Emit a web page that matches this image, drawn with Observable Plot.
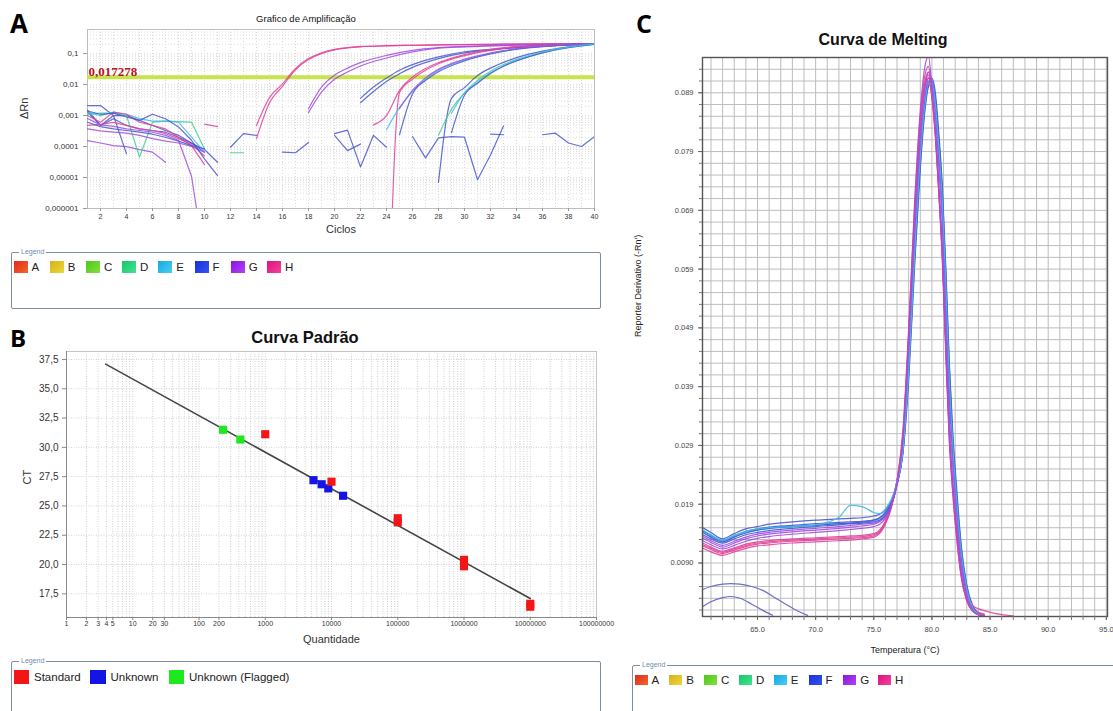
<!DOCTYPE html>
<html><head><meta charset="utf-8">
<script src="https://cdn.jsdelivr.net/npm/d3@7"></script>
<script src="https://cdn.jsdelivr.net/npm/@observablehq/plot@0.6"></script>
<style>
body{margin:0;background:#fff;font-family:"Liberation Sans",Arial,sans-serif;}
#root{position:relative;width:1113px;height:711px;overflow:hidden;background:#fff;}
.pos{position:absolute;}
.letter{position:absolute;font-family:"Open Sans","Liberation Sans",sans-serif;font-weight:700;line-height:1;color:#000;}
.title{position:absolute;white-space:nowrap;transform:translateX(-50%);line-height:1;color:#111;}
.legend{position:absolute;border:1.5px solid #7f8e9e;border-radius:2px;box-sizing:border-box;}
.legend .lt{position:absolute;top:-5px;left:7px;background:#fff;padding:0 2px;font-size:7px;line-height:8px;color:#6f8db0;}
.item{position:absolute;display:flex;align-items:center;color:#222;white-space:nowrap;}
.sw{display:inline-block;}
</style></head>
<body><div id="root">
  <div class="letter" style="left:10px;top:10px;font-size:26px;">A</div>
  <div class="letter" style="left:10px;top:326px;font-size:24px;">B</div>
  <div class="letter" style="left:636px;top:11px;font-size:25px;">C</div>
  <div class="title" style="left:306px;top:14px;font-size:9.5px;">Grafico de Amplificação</div>
  <div class="title" style="left:305px;top:329px;font-size:16.5px;font-weight:700;">Curva Padrão</div>
  <div class="title" style="left:883px;top:32px;font-size:16px;font-weight:700;">Curva de Melting</div>
  <div id="pa" class="pos" style="left:0;top:0;"></div>
  <div id="pb" class="pos" style="left:0;top:315px;"></div>
  <div id="pc" class="pos" style="left:620px;top:0;"></div>
  <div id="legA" class="legend" style="left:11px;top:252px;width:590px;height:57px;"><span class="lt">Legend</span></div>
  <div id="legB" class="legend" style="left:11px;top:661px;width:590px;height:70px;"><span class="lt">Legend</span></div>
  <div id="legC" class="legend" style="left:632px;top:665px;width:520px;height:70px;"><span class="lt">Legend</span></div>
</div>
<script>
// ---------------- Legends (samples A-H) ----------------
const sampleKeys = ["A","B","C","D","E","F","G","H"];
const sampleColorsFrom = ["#e4281c","#d8b01c","#4cc81c","#14c866","#16a8e0","#1830d8","#8818e0","#e0107c"];
const sampleColorsTo   = ["#f0682c","#ead838","#84e03c","#44e294","#46d0f2","#3454f0","#b242f2","#f0449c"];
// line colours drawn for each sample in panels A and C
const lineKeys = ["D","E","F","G","H"];
const lineColors = ["#3ccf8c","#3fbde8","#4657cf","#a04ce0","#e0429a"];

// ---------------- Panel A : amplification ----------------
const cycleTicks = [2,4,6,8,10,12,14,16,18,20,22,24,26,28,30,32,34,36,38,40];
const yTicksA = [1e-6,1e-5,1e-4,1e-3,1e-2,1e-1];
const yTickLabelsA = ["0,000001","0,00001","0,0001","0,001","0,01","0,1"];
const threshold = 0.017278;
const thresholdLabel = "0,017278";

// amplification curves: [cycle, ΔRn]
const ampH1 = [[14,4.8e-4],[15,3.8e-3],[16,0.0105],[17,0.033],[18,0.069],[19,0.107],[20,0.138],[21,0.156],[22,0.17],[24,0.18],[26,0.186],[28,0.19],[32,0.2],[36,0.206],[40,0.21]];
const ampH2 = [[14,1.8e-4],[15,2.6e-3],[16,0.0088],[17,0.03],[18,0.064],[19,0.1],[20,0.132],[21,0.152],[22,0.166],[24,0.178],[26,0.185],[28,0.19],[32,0.2],[36,0.206],[40,0.21]];
const ampG1 = [[18,1.66e-3],[19,8.3e-3],[20,0.02],[21,0.034],[22,0.051],[24,0.088],[26,0.128],[28,0.155],[30,0.17],[34,0.19],[40,0.21]];
const ampG2 = [[18,1.24e-3],[19,5.7e-3],[20,0.0148],[21,0.0254],[22,0.04],[24,0.072],[26,0.113],[28,0.15],[30,0.165],[34,0.188],[40,0.21]];
const ampF1 = [[22,3.6e-3],[23,8.3e-3],[24,0.0162],[25,0.029],[26,0.044],[28,0.078],[30,0.115],[32,0.138],[34,0.16],[36,0.18],[40,0.21]];
const ampF2 = [[22,2.6e-3],[23,6e-3],[24,0.0126],[25,0.0225],[26,0.036],[28,0.069],[30,0.105],[32,0.13],[34,0.155],[36,0.175],[40,0.21]];
const ampH3 = [[23,5e-4],[24,1e-3],[25,6.5e-3],[26,0.0175],[27,0.033],[28,0.051],[30,0.093],[32,0.138],[34,0.17],[36,0.186],[40,0.205]];
const ampH4 = [[24,1e-12],[25,5.5e-3],[26,0.015],[27,0.029],[28,0.047],[30,0.086],[32,0.128],[34,0.163],[36,0.183],[40,0.205]];
const ampE1 = [[24,3.5e-4],[25,1.8e-3],[26,6e-3],[27,0.015],[28,0.029],[30,0.062],[32,0.1],[34,0.14],[36,0.17],[38,0.19],[40,0.205]];
const ampF3 = [[25,2.4e-4],[26,5e-3],[27,0.0135],[28,0.026],[30,0.058],[32,0.097],[34,0.138],[36,0.168],[38,0.188],[40,0.205]];
const ampG3 = [[25,1.7e-3],[26,6.5e-3],[27,0.0165],[28,0.031],[30,0.066],[32,0.105],[34,0.145],[36,0.172],[38,0.19],[40,0.207]];
const ampF4 = [[28,7e-6],[29,3.6e-3],[30,8e-3],[31,0.0195],[32,0.034],[33,0.052],[34,0.074],[36,0.12],[38,0.165],[40,0.205]];
const ampD1 = [[28,2.3e-4],[29,1.6e-3],[30,5.2e-3],[31,0.012],[32,0.024],[33,0.04],[34,0.06],[36,0.108],[38,0.158],[40,0.2]];
const ampF5 = [[29,2.8e-4],[30,4.5e-3],[31,0.011],[32,0.023],[33,0.039],[34,0.058],[36,0.105],[38,0.155],[40,0.2]];
const ampE2 = [[29,1.2e-3],[30,5.5e-3],[31,0.0135],[32,0.027],[33,0.044],[34,0.065],[36,0.113],[38,0.162],[40,0.202]];

// early-cycle baselines and noise fragments: [cycle, ΔRn]
const baseB1 = [[1,2.1e-3],[2,2.1e-3],[3,1.0e-3],[4,1.0e-3],[5,7e-4],[6,4.8e-4],[7,3.3e-4],[8,2.3e-4],[9,1.3e-4],[10,8e-5],[11,3.1e-5]];
const baseB2 = [[1,1.5e-3],[2,4.8e-4],[3,7.9e-4],[4,4.8e-4],[5,3.7e-4],[6,3.3e-4],[7,2.9e-4],[8,2.0e-4],[9,1.3e-4],[10,6.6e-5]];
const baseB3 = [[1,1.55e-4],[2,1.3e-4],[3,1.07e-4],[4,1.0e-4],[5,8e-5],[6,6.6e-5],[7,3.1e-5]];
const baseB4 = [[1,1.3e-3],[2,4.8e-4],[3,1.0e-3],[4,5.8e-5]];
const baseB5 = [[1,1.1e-3],[2,1.2e-3],[3,1.2e-3],[4,1.0e-3],[5,4.6e-5],[6,6.1e-4],[7,6.6e-4],[8,6.4e-4],[9,6.1e-4],[10,8.5e-5]];
const baseB6 = [[1,1.29e-3],[2,1.0e-3],[3,1.29e-3],[4,1.1e-3],[5,8e-4],[6,6.6e-4],[7,6.6e-4],[8,6.1e-4],[9,2.0e-4],[10,6.6e-5]];
const baseB7 = [[1,8e-4],[2,5e-4],[3,4.5e-4],[4,3.7e-4],[5,3.3e-4],[6,2.9e-4],[7,2.3e-4],[8,1.6e-4],[9,1.1e-5],[9.5,5e-7]];
const baseB8 = [[1,1.0e-3],[2,6.1e-4],[3,1.29e-3],[4,1.1e-3],[5,6.1e-4],[6,4.8e-4],[7,3.7e-4],[8,2.0e-4],[9,1.07e-4],[10,2.6e-5]];
const baseB9 = [[1,4.8e-4],[2,5.2e-4],[3,6e-4],[4,4.8e-4],[5,3.7e-4],[6,3.3e-4],[7,2.6e-4],[8,1.8e-4],[9,1.2e-4],[10,5e-5]];
const baseB10 = [[1,3.7e-4],[2,3.2e-4],[3,2.9e-4],[4,2.7e-4],[5,2.3e-4],[6,1.8e-4],[7,1.5e-4],[8,1.3e-4],[9,1.0e-4],[10,6.6e-5]];
const baseB11 = [[1,6.1e-4],[2,4.4e-4],[3,3.7e-4],[4,3.3e-4],[5,2.9e-4],[6,2.5e-4],[7,2.0e-4],[8,1.5e-4],[9,1.07e-4],[10,8.5e-5]];
const baseB12 = [[1,1.4e-3],[2,1.1e-3],[3,1.2e-3],[4,9e-4],[5,7e-4],[6,1.1e-3],[7,7.9e-4],[8,4.3e-4],[9,1.6e-4],[10,4e-5],[11,1.15e-5]];
const noiseN1 = [[10,5.3e-4],[11,4.4e-4]];
const noiseN2 = [[12,9.5e-5],[13,2.6e-4],[14,2.3e-4]];
const noiseN3 = [[12,6.3e-5],[13,6.3e-5]];
const noiseN4 = [[16,6.6e-5],[17,6.3e-5],[18,1.35e-4]];
const noiseN5 = [[20,2.6e-4],[21,3.4e-4],[22,2.2e-5],[23,2.3e-4],[24,9.5e-5]];
const noiseN6 = [[20,2.3e-4],[21,7.4e-5],[22,1.2e-4]];
const noiseN7 = [[26,2.1e-4],[27,4.3e-5],[28,1.9e-4],[29,2.1e-4],[30,2.0e-4],[31,8.5e-6],[32,5.3e-5],[33,4.6e-4]];
const noiseN8 = [[32,2.5e-4],[33,2.4e-4]];
const noiseN9 = [[36,2.4e-4],[37,2.7e-4],[38,1.3e-4],[39,1.0e-4],[40,2.1e-4]];

const ampSeries = [["H",ampH1],["H",ampH2],["G",ampG1],["G",ampG2],["F",ampF1],["F",ampF2],["H",ampH3],["H",ampH4],["E",ampE1],["F",ampF3],["G",ampG3],["F",ampF4],["D",ampD1],["F",ampF5],["E",ampE2]];
const baseSeries = [["F",baseB1],["F",baseB2],["G",baseB3],["F",baseB4],["D",baseB5],["E",baseB6],["G",baseB7],["H",baseB8],["H",baseB9],["G",baseB10],["F",baseB11],["F",baseB12],
  ["H",noiseN1],["F",noiseN2],["D",noiseN3],["F",noiseN4],["F",noiseN5],["F",noiseN6],["F",noiseN7],["F",noiseN8],["F",noiseN9]];

// ---------------- Panel B : standard curve ----------------
const xTicksB = [1,2,3,4,5,10,20,30,100,200,1000,10000,100000,1000000,10000000,100000000];
const xTickLabelsB = ["1","2","3","4","5","10","20","30","100","200","1000","10000","100000","1000000","10000000","100000000"];
const yTicksB = [17.5,20,22.5,25,27.5,30,32.5,35,37.5];
const yTickLabelsB = ["17,5","20,0","22,5","25,0","27,5","30,0","32,5","35,0","37,5"];
const fitQ = [3.9, 10000000];
const fitCt = [37.1, 17.1];
const flaggedQ = [231, 421];
const flaggedCt = [31.5, 30.67];
const unknownQ = [5350, 7100, 8950, 14960];
const unknownCt = [27.2, 26.85, 26.5, 25.87];
const standardQ = [1000, 10000, 100000, 100000, 1000000, 1000000, 10000000, 10000000];
const standardCt = [31.12, 27.07, 23.95, 23.6, 20.4, 19.85, 16.65, 16.4];
const pointKinds = ["Standard","Unknown","Unknown (Flagged)"];
const pointColors = ["#f21616","#1414e4","#1ee81e"];

// ---------------- Panel C : melting curves ----------------
const tempGrid = [60.3,61,62,63,64,65,66,68,70,72,73,74,75,75.5,76,76.5,77,77.5,78,78.5,79,79.4,79.7,80,80.3,80.6,80.9,81.2,81.5,81.8,82.1,82.5,83,83.5,84,84.5];
const meltF1 = [.0150,.0142,.0131,.0140,.0148,.0152,.0156,.0160,.0163,.0165,.0166,.0167,.0170,.0173,.0180,.0196,.0226,.0275,.0400,.0590,.0760,.0860,.0900,.0910,.0880,.0810,.0720,.0580,.0420,.0300,.0215,.0120,.0050,.0016,.0004,.0001];
const meltF2 = [.0145,.0137,.0128,.0136,.0144,.0148,.0151,.0154,.0157,.0159,.0160,.0161,.0163,.0166,.0174,.0192,.0228,.0285,.0430,.0630,.0790,.0875,.0910,.0905,.0865,.0785,.0690,.0540,.0380,.0275,.0195,.0105,.0042,.0013,.0003,.0000];
const meltF3 = [.0138,.0131,.0124,.0131,.0138,.0142,.0145,.0149,.0152,.0155,.0157,.0158,.0160,.0163,.0171,.0189,.0224,.0280,.0420,.0615,.0780,.0870,.0905,.0900,.0870,.0790,.0700,.0550,.0395,.0285,.0200,.0110,.0045,.0014,.0003,.0000];
const meltF4 = [.0142,.0134,.0126,.0134,.0141,.0146,.0149,.0152,.0154,.0157,.0158,.0160,.0163,.0167,.0176,.0193,.0225,.0278,.0410,.0600,.0770,.0865,.0905,.0915,.0890,.0820,.0730,.0590,.0430,.0310,.0225,.0125,.0053,.0018,.0005,.0001];
const meltG1 = [.0132,.0125,.0117,.0124,.0131,.0136,.0139,.0143,.0146,.0149,.0151,.0153,.0156,.0160,.0169,.0187,.0223,.0282,.0435,.0640,.0810,.0895,.0925,.0905,.0850,.0760,.0660,.0500,.0345,.0250,.0175,.0090,.0035,.0010,.0002,.0000];
const meltG2 = [.0128,.0121,.0114,.0120,.0127,.0132,.0135,.0139,.0142,.0145,.0147,.0149,.0152,.0156,.0166,.0186,.0228,.0300,.0480,.0700,.0860,.0935,.0952,.0900,.0830,.0730,.0620,.0460,.0310,.0220,.0150,.0075,.0028,.0008,.0002,.0000];
const meltG3 = [.0135,.0128,.0120,.0127,.0134,.0139,.0142,.0146,.0149,.0152,.0154,.0156,.0158,.0162,.0170,.0188,.0222,.0278,.0420,.0620,.0790,.0880,.0915,.0910,.0870,.0790,.0700,.0550,.0390,.0280,.0200,.0108,.0044,.0013,.0003,.0000];
const meltH1 = [.0115,.0109,.0103,.0109,.0115,.0119,.0121,.0124,.0126,.0128,.0129,.0131,.0134,.0140,.0156,.0183,.0232,.0315,.0490,.0690,.0850,.0920,.0935,.0890,.0820,.0720,.0610,.0450,.0300,.0210,.0140,.0070,.0026,.0008,.0002,.0000];
const meltH2 = [.0119,.0113,.0106,.0112,.0118,.0122,.0124,.0127,.0129,.0131,.0132,.0133,.0136,.0142,.0158,.0185,.0230,.0308,.0475,.0675,.0840,.0910,.0925,.0885,.0815,.0715,.0600,.0440,.0295,.0205,.0137,.0068,.0025,.0009,.0004,.0002];
const meltH3 = [.0124,.0117,.0110,.0116,.0122,.0126,.0128,.0131,.0133,.0135,.0136,.0137,.0140,.0146,.0161,.0186,.0228,.0300,.0460,.0660,.0825,.0900,.0915,.0880,.0815,.0720,.0610,.0455,.0310,.0220,.0150,.0078,.0030,.0012,.0006,.0003];
const meltH4 = [.0121,.0115,.0108,.0114,.0120,.0124,.0126,.0129,.0131,.0133,.0134,.0135,.0138,.0144,.0160,.0186,.0230,.0305,.0470,.0670,.0830,.0905,.0920,.0885,.0820,.0725,.0615,.0460,.0315,.0225,.0158,.0085,.0038,.0018,.0012,.0009];
const meltH4TailT = [85.5, 87];
const meltH4TailV = [.0004, .0000];
const meltE1 = [.0146,.0138,.0129,.0137,.0144,.0148,.0150,.0152,.0155,.0168,.0188,.0186,.0176,.0174,.0182,.0198,.0228,.0280,.0415,.0610,.0780,.0870,.0905,.0905,.0870,.0795,.0705,.0560,.0400,.0290,.0205,.0112,.0046,.0014,.0003,.0000];
const meltE2 = [.0143,.0135,.0127,.0135,.0142,.0146,.0149,.0152,.0155,.0157,.0158,.0159,.0162,.0166,.0176,.0194,.0228,.0282,.0420,.0620,.0790,.0880,.0915,.0912,.0878,.0800,.0712,.0568,.0408,.0295,.0210,.0115,.0048,.0015,.0004,.0001];
// two low curves (no product)
const lowT1 = [60.3,61,62,62.7,63.5,64.5,65.5,66.5,67.5,68.5,69.3];
const lowV1 = [.0045,.0050,.0054,.0055,.0054,.0050,.0043,.0031,.0019,.0008,.0001];
const lowT2 = [60.3,61,62,62.7,63.5,64.5,65.5,66.3];
const lowV2 = [.0016,.0024,.0031,.0033,.0030,.0020,.0009,.0001];
const xTicksC = [65,70,75,80,85,90,95];
const xTickLabelsC = ["65.0","70.0","75.0","80.0","85.0","90.0","95.0"];
const yTicksC = [0.009,0.019,0.029,0.039,0.049,0.059,0.069,0.079,0.089];
const yTickLabelsC = ["0.0090","0.019","0.029","0.039","0.049","0.059","0.069","0.079","0.089"];

// ---------------- build ----------------
const lineColorOf = new Map(lineKeys.map((k,i)=>[k,lineColors[i]]));
const flat = (series, off) => series.flatMap(([s,pts],k)=>pts.map(([c,v])=>({id:off+k, s, c, v})));
const ampRows = flat(ampSeries, 0);
const baseRows = flat(baseSeries, 100);
const labA = new Map(yTicksA.map((v,i)=>[v,yTickLabelsA[i]]));
const font = "Liberation Sans, Arial, sans-serif";

const plotA = Plot.plot({
  width: 610, height: 245,
  marginLeft: 87, marginRight: 16, marginTop: 29, marginBottom: 37,
  style: {fontFamily: font, fontSize: "8px", color: "#333", background: "transparent"},
  x: {domain: [1, 40], label: null},
  y: {type: "log", domain: [1e-6, 0.6], label: null},
  color: {type: "identity"},
  marks: [
    Plot.gridX({ticks: 40, stroke: "#d9d9d9", strokeDasharray: "1,2", strokeOpacity: 1}),
    Plot.gridY({ticks: 60, stroke: "#dedede", strokeDasharray: "1,2", strokeOpacity: 1}),
    Plot.frame({stroke: "#bdbdbd"}),
    Plot.ruleY([threshold], {stroke: "#c8e44c", strokeWidth: 4}),
    Plot.text([thresholdLabel], {x: 1, y: threshold, text: d=>d, dx: 1, dy: -1, textAnchor: "start", lineAnchor: "bottom",
      fill: "#b8121c", fontFamily: "Liberation Serif, DejaVu Serif, serif", fontWeight: "bold", fontSize: 13}),
    Plot.line(baseRows, {x: "c", y: "v", z: "id", stroke: d=>lineColorOf.get(d.s), strokeWidth: 1.2, strokeOpacity: 0.85, clip: true}),
    Plot.line(ampRows, {x: "c", y: "v", z: "id", stroke: d=>lineColorOf.get(d.s), strokeWidth: 1.2, strokeOpacity: 0.85, curve: "monotone-x", clip: true}),
    Plot.axisY(yTicksA, {tickFormat: d=>labA.get(d), tickSize: 4, tickPadding: 5, fontSize: 8, stroke: "#999", label: null}),
    Plot.axisX(cycleTicks, {tickSize: 3, tickPadding: 3, fontSize: 7, stroke: "#999", label: null}),
    Plot.text(["Ciclos"], {frameAnchor: "bottom", dy: 24, text: d=>d, fontSize: 11, fill: "#333"}),
    Plot.text(["ΔRn"], {frameAnchor: "left", dx: -63, rotate: -90, text: d=>d, fontSize: 11, fill: "#333"})
  ]
});
document.getElementById("pa").append(plotA);

// Panel B
const labXB = new Map(xTicksB.map((v,i)=>[v,xTickLabelsB[i]]));
const labYB = new Map(yTicksB.map((v,i)=>[v,yTickLabelsB[i]]));
const fitRows = fitQ.map((q,i)=>({q, ct: fitCt[i]}));
const ptRows = [
  ...flaggedQ.map((q,i)=>({q, ct: flaggedCt[i], k: 2})),
  ...unknownQ.map((q,i)=>({q, ct: unknownCt[i], k: 1})),
  ...standardQ.map((q,i)=>({q, ct: standardCt[i], k: 0}))
];
const plotB = Plot.plot({
  width: 616, height: 335,
  marginLeft: 66, marginRight: 20, marginTop: 36, marginBottom: 33,
  style: {fontFamily: font, fontSize: "8px", color: "#333", background: "transparent"},
  x: {type: "log", domain: [1, 1e8], label: null},
  y: {domain: [15.48, 38.18], label: null},
  color: {type: "identity"},
  marks: [
    Plot.gridX({ticks: 100, stroke: "#cfcfcf", strokeDasharray: "1,1.5", strokeOpacity: 1}),
    Plot.gridY(yTicksB, {stroke: "#d2d2d2", strokeDasharray: "1,1.5", strokeOpacity: 1}),
    Plot.frame({stroke: "#c4c4c4"}),
    Plot.ruleX([1], {stroke: "#8a8a8a"}),
    Plot.ruleY([15.48], {stroke: "#8a8a8a"}),
    Plot.axisY(yTicksB, {tickFormat: d=>labYB.get(d), tickSize: 4, tickPadding: 4, fontSize: 10, stroke: "#888", label: null}),
    Plot.axisX(xTicksB, {tickFormat: () => "", tickSize: 3, stroke: "#888", label: null}),
    Plot.text(xTicksB, {x: d=>d, frameAnchor: "bottom", dy: 8, text: d=>labXB.get(d), fontSize: 7, fill: "#333"}),
    Plot.line(fitRows, {x: "q", y: "ct", stroke: "#454545", strokeWidth: 1.6}),
    Plot.dot(ptRows, {x: "q", y: "ct", symbol: "square", r: 4.6, fill: d=>pointColors[d.k], stroke: null}),
    Plot.text(["Quantidade"], {frameAnchor: "bottom", dy: 25, text: d=>d, fontSize: 11, fill: "#333"}),
    Plot.text(["CT"], {frameAnchor: "left", dx: -39, rotate: -90, text: d=>d, fontSize: 11, fill: "#333"})
  ]
});
document.getElementById("pb").append(plotB);

// Panel C
const meltSeries = [["F",meltF1],["F",meltF2],["E",meltE2],["G",meltG3],["F",meltF3],["F",meltF4],["H",meltH3],["H",meltH2],["H",meltH4],["H",meltH1],["G",meltG1],["E",meltE1],["G",meltG2]];
const meltRows = meltSeries.flatMap(([s,vals],k)=>vals.map((v,i)=>({id:k, s, t: tempGrid[i], v})));
meltH4TailT.forEach((t,i)=>meltRows.push({id: 8, s: "H", t, v: meltH4TailV[i]}));
const lowRows = [
  ...lowT1.map((t,i)=>({id: 50, t, v: lowV1[i]})),
  ...lowT2.map((t,i)=>({id: 51, t, v: lowV2[i]}))
];
const labXC = new Map(xTicksC.map((v,i)=>[v,xTickLabelsC[i]]));
const labYC = new Map(yTicksC.map((v,i)=>[v,yTickLabelsC[i]]));
const minorYC = d3.range(0.001, 0.0945, 0.002);
const plotC = Plot.plot({
  width: 493, height: 662,
  marginLeft: 82, marginRight: 6, marginTop: 57, marginBottom: 46,
  style: {fontFamily: font, fontSize: "8px", color: "#444", background: "transparent"},
  x: {domain: [60.27, 95.1], label: null},
  y: {domain: [-0.0001, 0.095], label: null},
  color: {type: "identity"},
  marks: [
    Plot.gridX({ticks: 35, stroke: "#bdbdbd", strokeOpacity: 1}),
    Plot.gridY(minorYC, {stroke: "#bdbdbd", strokeOpacity: 1}),
    Plot.line(lowRows, {x: "t", y: "v", z: "id", stroke: "#6a70c6", strokeWidth: 1.2, curve: "monotone-x", clip: true}),
    Plot.line(meltRows, {x: "t", y: "v", z: "id", stroke: d=>lineColorOf.get(d.s), strokeWidth: 1.2, strokeOpacity: 0.9, curve: "monotone-x", clip: true}),
    Plot.frame({stroke: "#555", strokeWidth: 1.4}),
    Plot.axisY(minorYC, {tickSize: 3, tickFormat: () => "", stroke: "#777", label: null}),
    Plot.axisX({ticks: 35, tickSize: 4, tickFormat: () => "", stroke: "#777", label: null}),
    Plot.axisY(yTicksC, {tickFormat: d=>labYC.get(d), tickSize: 4, tickPadding: 5, fontSize: 7.5, stroke: "#666", label: null}),
    Plot.axisX(xTicksC, {tickFormat: d=>labXC.get(d), tickSize: 4, tickPadding: 6, fontSize: 7.5, stroke: "#666", label: null}),
    Plot.text(["Temperatura (°C)"], {frameAnchor: "bottom", dy: 36, text: d=>d, fontSize: 9, fill: "#222"}),
    Plot.text(["Reporter Derivativo (-Rn')"], {frameAnchor: "left", dx: -64, rotate: -90, text: d=>d, fontSize: 9, fill: "#222"})
  ]
});
document.getElementById("pc").append(plotC);

// Legends
function sampleLegend(id, x0, step, y, sw, sh, fs) {
  const el = document.getElementById(id);
  sampleKeys.forEach((k,i)=>{
    const it = document.createElement("div");
    it.className = "item";
    it.style.left = (x0 + i*step) + "px"; it.style.top = y + "px"; it.style.fontSize = fs + "px";
    it.innerHTML = `<span class="sw" style="width:${sw}px;height:${sh}px;margin-right:4px;background:linear-gradient(135deg,${sampleColorsFrom[i]},${sampleColorsTo[i]})"></span>${k}`;
    el.append(it);
  });
}
sampleLegend("legA", 1.5, 36.2, 7.5, 14, 12, 11.5);
sampleLegend("legC", 1.5, 34.8, 7.5, 13, 10, 11.5);
(function(){
  const el = document.getElementById("legB");
  const xs = [1.5, 78, 156.5];
  pointKinds.forEach((k,i)=>{
    const it = document.createElement("div");
    it.className = "item";
    it.style.left = xs[i] + "px"; it.style.top = "7.5px"; it.style.fontSize = "11.5px";
    it.innerHTML = `<span class="sw" style="width:15.5px;height:14px;margin-right:5px;background:${pointColors[i]}"></span>${k}`;
    el.append(it);
  });
})();
</script></body></html>
